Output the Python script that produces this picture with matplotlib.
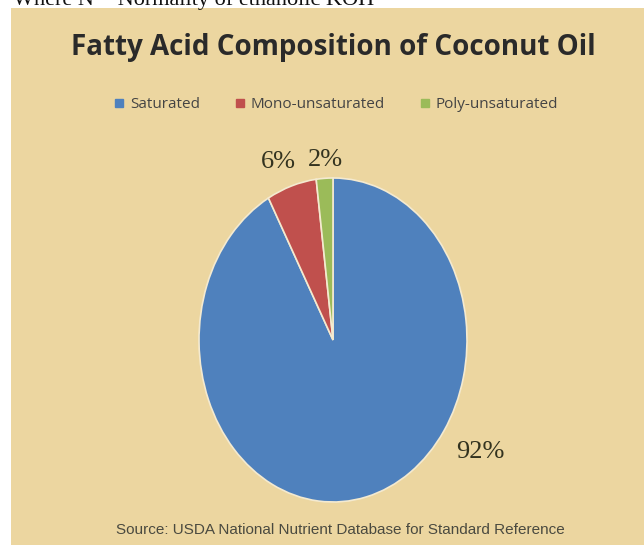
import matplotlib.pyplot as plt
from matplotlib.patches import Rectangle
from matplotlib.lines import Line2D

categories = ['Saturated', 'Mono-unsaturated', 'Poly-unsaturated']
shares = [92, 6, 2]
colors = ['#4f81bd', '#c0504d', '#9bbb59']
pct_labels = ['92%', '6%', '2%']
# label spots in pie units (x, y), Excel put them outside
label_pos = [(1.10, -0.69), (-0.41, 1.10), (-0.06, 1.11)]

W, H = 644, 545
fig = plt.figure(figsize=(W / 100, H / 100), dpi=100)
fig.patch.set_facecolor('white')

# parchment background
bg = Rectangle((11 / W, 0), 1 - 11 / W, 1 - 8 / H, transform=fig.transFigure,
               facecolor='#ecd6a0', edgecolor='none', zorder=-5)
fig.patches.append(bg)

# cut off caption from the page above
fig.text(13 / W, 1 - 5 / H, 'Where N = Normality of ethanolic KOH',
         family='Liberation Serif', fontsize=16, color='#111111',
         va='baseline', ha='left')

fig.text(333 / W, 1 - 47 / H, 'Fatty Acid Composition of Coconut Oil',
         family='Open Sans', weight='bold', fontsize=20, color='#2a2a2a',
         ha='center', va='center')

handles = [Line2D([], [], marker='s', linestyle='none', markersize=6,
                  markerfacecolor=c, markeredgecolor=c) for c in colors]
fig.legend(handles, categories, loc='center', bbox_to_anchor=(334 / W, 1 - 105 / H),
           ncol=3, frameon=False, handletextpad=0.1, handlelength=1.2,
           columnspacing=2.0, labelcolor='#444444',
           prop={'family': 'Open Sans', 'size': 11})

# pie is stretched vertically like the original
cx, cy, rx, ry = 333, 340, 134, 162
ax = fig.add_axes([(cx - rx) / W, (H - cy - ry) / H, 2 * rx / W, 2 * ry / H])
ax.pie(shares, colors=colors, startangle=90, counterclock=False,
       wedgeprops={'edgecolor': '#f4ead0', 'linewidth': 1.2})
ax.set_aspect('auto')
ax.set_xlim(-1, 1)
ax.set_ylim(-1, 1)
ax.patch.set_alpha(0)

for (x, y), t in zip(label_pos, pct_labels):
    ax.text(x, y, t, family='Liberation Serif', fontsize=19, color='#33331f',
            ha='center', va='center', clip_on=False)

fig.text(340 / W, 1 - 530 / H, 'Source: USDA National Nutrient Database for Standard Reference',
         family='Liberation Sans', fontsize=11, color='#4a4a40',
         ha='center', va='center')

fig.savefig('out.png', dpi=100)
